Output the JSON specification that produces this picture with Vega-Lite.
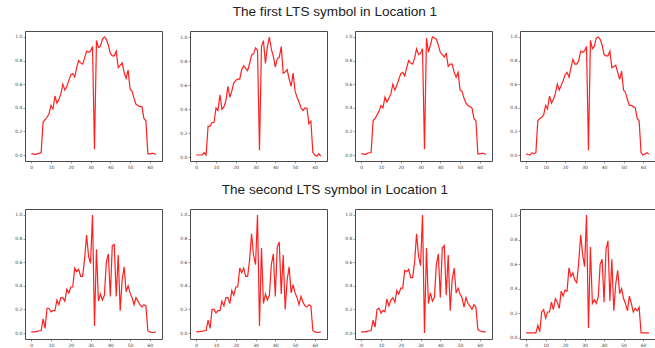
{
  "$schema": "https://vega.github.io/schema/vega-lite/v6.json",
  "background": "white",
  "padding": {"left": 14, "top": 4, "right": 5, "bottom": 3},
  "data": {"values": [
    {"x":0,"a1":0.01,"a2":0.02,"a3":0.01,"a4":0.01,"b1":0.01,"b2":0.01,"b3":0.01,"b4":0.04},
    {"x":1,"a1":0.01,"a2":0.02,"a3":0.01,"a4":0.005,"b1":0.01,"b2":0.01,"b3":0.01,"b4":0.04},
    {"x":2,"a1":0.005,"a2":0.02,"a3":0.005,"a4":0.0,"b1":0.01,"b2":0.015,"b3":0.01,"b4":0.04},
    {"x":3,"a1":0.01,"a2":0.02,"a3":0.015,"a4":0.02,"b1":0.015,"b2":0.015,"b3":0.015,"b4":0.04},
    {"x":4,"a1":0.015,"a2":0.04,"a3":0.02,"a4":0.01,"b1":0.02,"b2":0.02,"b3":0.02,"b4":0.04},
    {"x":5,"a1":0.02,"a2":0.02,"a3":0.02,"a4":0.02,"b1":0.02,"b2":0.02,"b3":0.02,"b4":0.04},
    {"x":6,"a1":0.28,"a2":0.26,"a3":0.29,"a4":0.29,"b1":0.12,"b2":0.11,"b3":0.11,"b4":0.10},
    {"x":7,"a1":0.30,"a2":0.26,"a3":0.31,"a4":0.31,"b1":0.04,"b2":0.04,"b3":0.05,"b4":0.05},
    {"x":8,"a1":0.32,"a2":0.29,"a3":0.34,"a4":0.32,"b1":0.21,"b2":0.20,"b3":0.20,"b4":0.21},
    {"x":9,"a1":0.35,"a2":0.29,"a3":0.37,"a4":0.34,"b1":0.21,"b2":0.20,"b3":0.21,"b4":0.23},
    {"x":10,"a1":0.42,"a2":0.41,"a3":0.42,"a4":0.42,"b1":0.18,"b2":0.17,"b3":0.17,"b4":0.16},
    {"x":11,"a1":0.39,"a2":0.39,"a3":0.40,"a4":0.39,"b1":0.19,"b2":0.19,"b3":0.19,"b4":0.21},
    {"x":12,"a1":0.50,"a2":0.52,"a3":0.49,"a4":0.50,"b1":0.19,"b2":0.19,"b3":0.18,"b4":0.21},
    {"x":13,"a1":0.44,"a2":0.40,"a3":0.45,"a4":0.44,"b1":0.28,"b2":0.27,"b3":0.29,"b4":0.29},
    {"x":14,"a1":0.47,"a2":0.42,"a3":0.48,"a4":0.47,"b1":0.24,"b2":0.23,"b3":0.23,"b4":0.23},
    {"x":15,"a1":0.52,"a2":0.47,"a3":0.52,"a4":0.52,"b1":0.30,"b2":0.30,"b3":0.28,"b4":0.32},
    {"x":16,"a1":0.60,"a2":0.59,"a3":0.60,"a4":0.60,"b1":0.30,"b2":0.30,"b3":0.30,"b4":0.29},
    {"x":17,"a1":0.55,"a2":0.50,"a3":0.55,"a4":0.55,"b1":0.27,"b2":0.25,"b3":0.26,"b4":0.24},
    {"x":18,"a1":0.58,"a2":0.55,"a3":0.59,"a4":0.59,"b1":0.37,"b2":0.36,"b3":0.36,"b4":0.38},
    {"x":19,"a1":0.63,"a2":0.62,"a3":0.64,"a4":0.63,"b1":0.34,"b2":0.32,"b3":0.33,"b4":0.34},
    {"x":20,"a1":0.68,"a2":0.64,"a3":0.69,"a4":0.68,"b1":0.39,"b2":0.39,"b3":0.38,"b4":0.39},
    {"x":21,"a1":0.69,"a2":0.65,"a3":0.70,"a4":0.70,"b1":0.39,"b2":0.39,"b3":0.38,"b4":0.38},
    {"x":22,"a1":0.66,"a2":0.65,"a3":0.67,"a4":0.66,"b1":0.55,"b2":0.55,"b3":0.53,"b4":0.57},
    {"x":23,"a1":0.74,"a2":0.73,"a3":0.74,"a4":0.74,"b1":0.52,"b2":0.51,"b3":0.52,"b4":0.50},
    {"x":24,"a1":0.80,"a2":0.76,"a3":0.80,"a4":0.81,"b1":0.54,"b2":0.55,"b3":0.54,"b4":0.53},
    {"x":25,"a1":0.78,"a2":0.74,"a3":0.78,"a4":0.77,"b1":0.48,"b2":0.48,"b3":0.47,"b4":0.47},
    {"x":26,"a1":0.77,"a2":0.72,"a3":0.77,"a4":0.77,"b1":0.48,"b2":0.48,"b3":0.47,"b4":0.45},
    {"x":27,"a1":0.82,"a2":0.78,"a3":0.82,"a4":0.80,"b1":0.63,"b2":0.62,"b3":0.60,"b4":0.62},
    {"x":28,"a1":0.88,"a2":0.85,"a3":0.90,"a4":0.88,"b1":0.83,"b2":0.84,"b3":0.84,"b4":0.84},
    {"x":29,"a1":0.87,"a2":0.86,"a3":0.85,"a4":0.87,"b1":0.65,"b2":0.66,"b3":0.65,"b4":0.68},
    {"x":30,"a1":0.88,"a2":0.91,"a3":0.86,"a4":0.88,"b1":0.59,"b2":0.58,"b3":0.57,"b4":0.58},
    {"x":31,"a1":0.92,"a2":0.89,"a3":0.90,"a4":0.92,"b1":1.0,"b2":1.0,"b3":1.0,"b4":1.0},
    {"x":32,"a1":0.05,"a2":0.06,"a3":0.05,"a4":0.04,"b1":0.06,"b2":0.06,"b3":0.0,"b4":0.08},
    {"x":33,"a1":0.97,"a2":0.92,"a3":0.99,"a4":0.97,"b1":0.71,"b2":0.72,"b3":0.72,"b4":0.74},
    {"x":34,"a1":0.91,"a2":0.97,"a3":0.87,"a4":0.90,"b1":0.27,"b2":0.25,"b3":0.25,"b4":0.28},
    {"x":35,"a1":0.92,"a2":0.78,"a3":0.93,"a4":0.92,"b1":0.33,"b2":0.33,"b3":0.34,"b4":0.31},
    {"x":36,"a1":0.98,"a2":0.92,"a3":1.0,"a4":0.99,"b1":0.28,"b2":0.28,"b3":0.27,"b4":0.28},
    {"x":37,"a1":1.0,"a2":1.0,"a3":0.99,"a4":1.0,"b1":0.32,"b2":0.32,"b3":0.30,"b4":0.33},
    {"x":38,"a1":0.98,"a2":0.90,"a3":0.98,"a4":0.98,"b1":0.60,"b2":0.58,"b3":0.58,"b4":0.60},
    {"x":39,"a1":0.93,"a2":0.84,"a3":0.93,"a4":0.93,"b1":0.67,"b2":0.67,"b3":0.67,"b4":0.64},
    {"x":40,"a1":0.86,"a2":0.75,"a3":0.87,"a4":0.85,"b1":0.31,"b2":0.31,"b3":0.30,"b4":0.29},
    {"x":41,"a1":0.84,"a2":0.82,"a3":0.85,"a4":0.84,"b1":0.74,"b2":0.73,"b3":0.72,"b4":0.72},
    {"x":42,"a1":0.84,"a2":0.83,"a3":0.83,"a4":0.84,"b1":0.75,"b2":0.77,"b3":0.74,"b4":0.79},
    {"x":43,"a1":0.88,"a2":0.92,"a3":0.86,"a4":0.88,"b1":0.31,"b2":0.33,"b3":0.32,"b4":0.30},
    {"x":44,"a1":0.74,"a2":0.70,"a3":0.75,"a4":0.74,"b1":0.66,"b2":0.66,"b3":0.66,"b4":0.64},
    {"x":45,"a1":0.76,"a2":0.71,"a3":0.77,"a4":0.75,"b1":0.19,"b2":0.20,"b3":0.19,"b4":0.22},
    {"x":46,"a1":0.78,"a2":0.73,"a3":0.77,"a4":0.76,"b1":0.45,"b2":0.45,"b3":0.45,"b4":0.44},
    {"x":47,"a1":0.70,"a2":0.65,"a3":0.70,"a4":0.70,"b1":0.56,"b2":0.56,"b3":0.55,"b4":0.55},
    {"x":48,"a1":0.65,"a2":0.59,"a3":0.66,"a4":0.64,"b1":0.35,"b2":0.34,"b3":0.34,"b4":0.36},
    {"x":49,"a1":0.72,"a2":0.70,"a3":0.70,"a4":0.71,"b1":0.40,"b2":0.41,"b3":0.38,"b4":0.40},
    {"x":50,"a1":0.56,"a2":0.55,"a3":0.55,"a4":0.55,"b1":0.34,"b2":0.34,"b3":0.33,"b4":0.32},
    {"x":51,"a1":0.54,"a2":0.50,"a3":0.54,"a4":0.53,"b1":0.30,"b2":0.30,"b3":0.30,"b4":0.28},
    {"x":52,"a1":0.48,"a2":0.46,"a3":0.48,"a4":0.47,"b1":0.24,"b2":0.24,"b3":0.22,"b4":0.22},
    {"x":53,"a1":0.43,"a2":0.41,"a3":0.44,"a4":0.42,"b1":0.30,"b2":0.31,"b3":0.30,"b4":0.34},
    {"x":54,"a1":0.42,"a2":0.39,"a3":0.42,"a4":0.42,"b1":0.27,"b2":0.26,"b3":0.25,"b4":0.28},
    {"x":55,"a1":0.41,"a2":0.41,"a3":0.41,"a4":0.41,"b1":0.24,"b2":0.23,"b3":0.23,"b4":0.21},
    {"x":56,"a1":0.41,"a2":0.41,"a3":0.40,"a4":0.40,"b1":0.22,"b2":0.22,"b3":0.20,"b4":0.24},
    {"x":57,"a1":0.31,"a2":0.28,"a3":0.31,"a4":0.31,"b1":0.24,"b2":0.24,"b3":0.24,"b4":0.22},
    {"x":58,"a1":0.29,"a2":0.30,"a3":0.29,"a4":0.29,"b1":0.23,"b2":0.23,"b3":0.22,"b4":0.25},
    {"x":59,"a1":0.01,"a2":0.04,"a3":0.01,"a4":0.02,"b1":0.02,"b2":0.02,"b3":0.03,"b4":0.04},
    {"x":60,"a1":0.01,"a2":0.02,"a3":0.01,"a4":0.0,"b1":0.01,"b2":0.01,"b3":0.02,"b4":0.04},
    {"x":61,"a1":0.015,"a2":0.01,"a3":0.015,"a4":0.01,"b1":0.005,"b2":0.005,"b3":0.015,"b4":0.04},
    {"x":62,"a1":0.015,"a2":0.03,"a3":0.015,"a4":0.02,"b1":0.005,"b2":0.005,"b3":0.01,"b4":0.04},
    {"x":63,"a1":0.005,"a2":0.01,"a3":0.005,"a4":0.01,"b1":0.01,"b2":0.01,"b3":0.01,"b4":0.04}
  ]},
  "vconcat": [
    {
      "title": {"text": "The first LTS symbol in Location 1"},
      "spacing": 16,
      "hconcat": [
        {"width": 137, "height": 130, "mark": {"type": "line"}, "encoding": {"x": {"field": "x", "type": "quantitative", "title": null, "scale": {"domain": [-3.15, 66.15], "nice": false, "zero": false}, "axis": {"values": [0, 10, 20, 30, 40, 50, 60]}}, "y": {"field": "a1", "type": "quantitative", "title": null, "scale": {"domain": [-0.05, 1.05], "nice": false}, "axis": {"values": [0, 0.2, 0.4, 0.6, 0.8, 1.0], "format": ".1f"}}}},
        {"width": 137, "height": 130, "mark": {"type": "line"}, "encoding": {"x": {"field": "x", "type": "quantitative", "title": null, "scale": {"domain": [-3.15, 66.15], "nice": false, "zero": false}, "axis": {"values": [0, 10, 20, 30, 40, 50, 60]}}, "y": {"field": "a2", "type": "quantitative", "title": null, "scale": {"domain": [-0.03, 1.05], "nice": false}, "axis": {"values": [0, 0.2, 0.4, 0.6, 0.8, 1.0], "format": ".1f"}}}},
        {"width": 137, "height": 130, "mark": {"type": "line"}, "encoding": {"x": {"field": "x", "type": "quantitative", "title": null, "scale": {"domain": [-3.15, 66.15], "nice": false, "zero": false}, "axis": {"values": [0, 10, 20, 30, 40, 50, 60]}}, "y": {"field": "a3", "type": "quantitative", "title": null, "scale": {"domain": [-0.05, 1.05], "nice": false}, "axis": {"values": [0, 0.2, 0.4, 0.6, 0.8, 1.0], "format": ".1f"}}}},
        {"width": 135, "height": 130, "mark": {"type": "line"}, "encoding": {"x": {"field": "x", "type": "quantitative", "title": null, "scale": {"domain": [-3.15, 66.15], "nice": false, "zero": false}, "axis": {"values": [0, 10, 20, 30, 40, 50, 60]}}, "y": {"field": "a4", "type": "quantitative", "title": null, "scale": {"domain": [-0.05, 1.05], "nice": false}, "axis": {"values": [0, 0.2, 0.4, 0.6, 0.8, 1.0], "format": ".1f"}}}}
      ]
    },
    {
      "title": {"text": "The second LTS symbol in Location 1"},
      "spacing": 16,
      "hconcat": [
        {"width": 137, "height": 130, "mark": {"type": "line"}, "encoding": {"x": {"field": "x", "type": "quantitative", "title": null, "scale": {"domain": [-3.15, 66.15], "nice": false, "zero": false}, "axis": {"values": [0, 10, 20, 30, 40, 50, 60]}}, "y": {"field": "b1", "type": "quantitative", "title": null, "scale": {"domain": [-0.05, 1.05], "nice": false}, "axis": {"values": [0, 0.2, 0.4, 0.6, 0.8, 1.0], "format": ".1f"}}}},
        {"width": 137, "height": 130, "mark": {"type": "line"}, "encoding": {"x": {"field": "x", "type": "quantitative", "title": null, "scale": {"domain": [-3.15, 66.15], "nice": false, "zero": false}, "axis": {"values": [0, 10, 20, 30, 40, 50, 60]}}, "y": {"field": "b2", "type": "quantitative", "title": null, "scale": {"domain": [-0.05, 1.05], "nice": false}, "axis": {"values": [0, 0.2, 0.4, 0.6, 0.8, 1.0], "format": ".1f"}}}},
        {"width": 137, "height": 130, "mark": {"type": "line"}, "encoding": {"x": {"field": "x", "type": "quantitative", "title": null, "scale": {"domain": [-3.15, 66.15], "nice": false, "zero": false}, "axis": {"values": [0, 10, 20, 30, 40, 50, 60]}}, "y": {"field": "b3", "type": "quantitative", "title": null, "scale": {"domain": [-0.05, 1.05], "nice": false}, "axis": {"values": [0, 0.2, 0.4, 0.6, 0.8, 1.0], "format": ".1f"}}}},
        {"width": 135, "height": 130, "mark": {"type": "line"}, "encoding": {"x": {"field": "x", "type": "quantitative", "title": null, "scale": {"domain": [-3.15, 66.15], "nice": false, "zero": false}, "axis": {"values": [0, 10, 20, 30, 40, 50, 60]}}, "y": {"field": "b4", "type": "quantitative", "title": null, "scale": {"domain": [-0.01, 1.05], "nice": false}, "axis": {"values": [0, 0.2, 0.4, 0.6, 0.8, 1.0], "format": ".1f"}}}}
      ]
    }
  ],
  "spacing": 13,
  "config": {
    "view": {"stroke": "#4a4a4a", "strokeWidth": 1},
    "axis": {"grid": false, "domain": false, "labelFontSize": 4.5, "labelFont": "DejaVu Sans", "labelColor": "#444", "tickSize": 2, "tickColor": "#555", "tickWidth": 0.6, "labelPadding": 1},
    "title": {"fontSize": 13.6, "font": "Liberation Sans", "fontWeight": "normal", "color": "#222", "offset": 12, "anchor": "middle"},
    "line": {"color": "#ff2020", "strokeWidth": 1.2}
  }
}
